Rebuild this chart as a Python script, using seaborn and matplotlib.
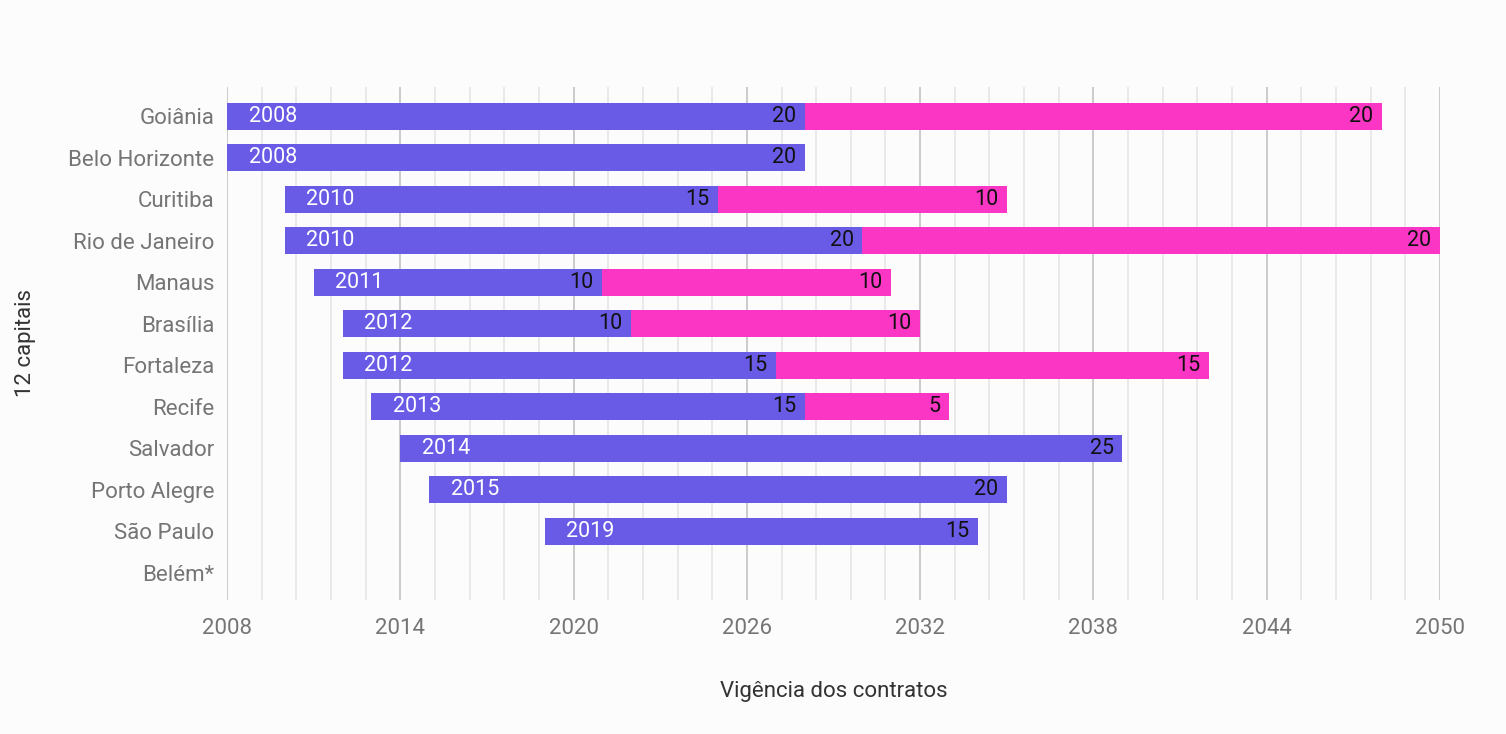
import numpy as np
import pandas as pd
import matplotlib
matplotlib.use("Agg")
import matplotlib.pyplot as plt
import seaborn as sns

cities = ["Goiânia", "Belo Horizonte", "Curitiba", "Rio de Janeiro", "Manaus",
          "Brasília", "Fortaleza", "Recife", "Salvador", "Porto Alegre",
          "São Paulo", "Belém*"]
start_year = [2008, 2008, 2010, 2010, 2011, 2012, 2012, 2013, 2014, 2015, 2019, np.nan]
first_term = [20, 20, 15, 20, 10, 10, 15, 15, 25, 20, 15, np.nan]
extension = [20, np.nan, 10, 20, 10, 10, 15, 5, np.nan, np.nan, np.nan, np.nan]

major_ticks = [2008, 2014, 2020, 2026, 2032, 2038, 2044, 2050]

PURPLE = "#6a5be6"
PINK = "#fb36c4"
BG = "#fcfcfc"

df = pd.DataFrame({"city": cities, "start": start_year,
                   "first": first_term, "ext": extension})
df["mid"] = df["start"] + df["first"]

sns.set_theme(style="white")
plt.rcParams["font.family"] = ["Roboto", "DejaVu Sans"]

fig = plt.figure(figsize=(15.06, 7.34), dpi=100, facecolor=BG)
ax = fig.add_axes([227 / 1506, 1 - 600 / 734, (1440 - 227) / 1506, (600 - 87) / 734])
ax.set_facecolor(BG)

# gridlines: minor every 1.2 years, major every 6
for v in np.arange(2008, 2050.01, 1.2):
    ax.axvline(v, color="#e6e6e6", lw=1.2, zorder=0)
for v in major_ticks:
    ax.axvline(v, color="#cccccc", lw=1.4, zorder=0)

d1 = df.dropna(subset=["first"])
sns.barplot(data=d1, y="city", x="first", order=cities, orient="y",
            left=d1["start"].values, color=PURPLE, saturation=1,
            width=0.65, linewidth=0, errorbar=None, ax=ax, zorder=2)
d2 = df.dropna(subset=["ext"])
sns.barplot(data=d2, y="city", x="ext", order=cities, orient="y",
            left=d2["mid"].values, color=PINK, saturation=1,
            width=0.65, linewidth=0, errorbar=None, ax=ax, zorder=2)

fs = 15.5
for i, r in df.iterrows():
    if np.isnan(r["start"]):
        continue
    ax.text(r["start"] + 0.75, i, f"{int(r['start'])}", color="white",
            fontsize=fs, ha="left", va="center", zorder=3)
    ax.text(r["mid"] - 0.3, i, f"{int(r['first'])}", color="#111111",
            fontsize=fs, ha="right", va="center", zorder=3)
    if not np.isnan(r["ext"]):
        ax.text(r["mid"] + r["ext"] - 0.3, i, f"{int(r['ext'])}", color="#111111",
                fontsize=fs, ha="right", va="center", zorder=3)

ax.set_xlim(2008, 2050)
ax.set_ylim(len(cities) - 1 + 0.65, -0.7)
ax.set_xticks(major_ticks)
ax.set_xticklabels([str(t) for t in major_ticks])
ax.tick_params(axis="both", length=0, labelsize=16, colors="#757575")
ax.tick_params(axis="x", pad=13)
ax.tick_params(axis="y", pad=9)
for s in ax.spines.values():
    s.set_visible(False)
ax.set_xlabel("Vigência dos contratos", fontsize=16, color="#333333", labelpad=30)
ax.set_ylabel("12 capitais", fontsize=16, color="#333333", labelpad=23)

fig.savefig("out.png", dpi=100, facecolor=BG)
